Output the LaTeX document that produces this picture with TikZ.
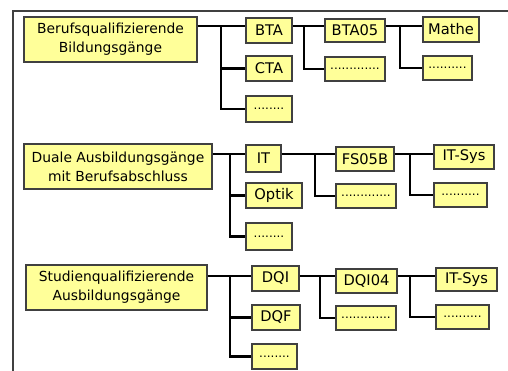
\documentclass[tikz,border=0pt]{standalone}
\usepackage{fontspec}
\setmainfont{DejaVu Sans}
\definecolor{boxfill}{HTML}{FFFF99}
\begin{document}
\begin{tikzpicture}[x=0.75pt,y=-0.75pt,
  box/.style={draw=black!75, fill=boxfill, line width=0.8pt, inner sep=0pt,
    align=center, font=\fontsize{11}{14.5}\selectfont},
  head/.style={box, font=\fontsize{10.4}{14}\selectfont},
  blank/.style={box, font=\fontsize{9}{10}\selectfont},
  % place a box by its corners (x1,y1) and (x2,y2)
  span/.style n args={4}{minimum width={(#3-#1)*0.75pt},
    minimum height={(#4-#2)*0.75pt}, at={({(#1+#3)/2},{(#2+#4)/2})}},
  link/.style={draw=black, line width=1.6pt},
  frame/.style={draw=black!75, line width=1.2pt}]
\useasboundingbox (0,0) rectangle (508,371);
% outer frame (top and left edges)
\draw[frame] (13,371) -- (13,11) -- (508,11);

% --- Berufsqualifizierende Bildungsgänge
\node[head, span={24}{17}{197}{62}] (r1) {Berufsqualifizierende\\Bildungsgänge};
\node[box, span={246}{18}{292}{43}] (bta) {BTA};
\node[box, span={246}{56}{292}{81}] (cta) {CTA};
\node[blank, span={246}{96}{292}{122}] (d1) {........};
\node[box, span={325}{19}{385}{42}] (bta05) {BTA05};
\node[blank, span={325}{57}{385}{81}] (db) {.............};
\node[box, span={423}{17}{479}{42}] (mathe) {Mathe};
\node[blank, span={423}{56}{472}{80}] (dm) {..........};

\coordinate (a1) at (221,26);
\coordinate (a2) at (304,26);
\coordinate (a3) at (400,26);
\draw[link] (r1.east |- a1) -- (a1 -| bta.west);
\draw[link] (a1) |- (cta.west);
\draw[link] (a1) |- (d1.west);
\draw[link] (bta.east |- a2) -- (a2 -| bta05.west);
\draw[link] (a2) |- (db.west);
\draw[link] (bta05.east |- a3) -- (a3 -| mathe.west);
\draw[link] (a3) |- (dm.west);

% --- Duale Ausbildungsgänge mit Berufsabschluss
\node[head, span={24}{144}{212}{189}] (r2) {Duale Ausbildungsgänge\\mit Berufsabschluss};
\node[box, span={246}{145}{281}{172}] (it) {IT};
\node[box, span={246}{183}{302}{208}] (optik) {Optik};
\node[blank, span={246}{223}{292}{250}] (d2) {........};
\node[box, span={336}{147}{394}{171}] (fs) {FS05B};
\node[blank, span={336}{184}{396}{208}] (df) {.............};
\node[box, span={434}{145}{494}{169}] (its1) {IT-Sys};
\node[blank, span={434}{183}{487}{207}] (di) {..........};

\coordinate (b1) at (230,154);
\coordinate (b2) at (315,154);
\coordinate (b3) at (410,154);
\draw[link] (r2.east |- b1) -- (b1 -| it.west);
\draw[link] (b1) |- (optik.west);
\draw[link] (b1) |- (d2.west);
\draw[link] (it.east |- b2) -- (b2 -| fs.west);
\draw[link] (b2) |- (df.west);
\draw[link] (fs.east |- b3) -- (b3 -| its1.west);
\draw[link] (b3) |- (di.west);

% --- Studienqualifizierende Ausbildungsgänge
\node[head, span={26}{265}{207}{310}] (r3) {Studienqualifizierende\\Ausbildungsgänge};
\node[box, span={252}{266}{299}{291}] (dqi) {DQI};
\node[box, span={252}{305}{300}{330}] (dqf) {DQF};
\node[blank, span={252}{344}{297}{369}] (d3) {........};
\node[box, span={336}{269}{397}{293}] (dqi04) {DQI04};
\node[blank, span={336}{306}{396}{330}] (dq) {.............};
\node[box, span={436}{268}{497}{291}] (its2) {IT-Sys};
\node[blank, span={436}{305}{489}{329}] (dj) {..........};

\coordinate (c1) at (230,276);
\coordinate (c2) at (320,276);
\coordinate (c3) at (410,276);
\draw[link] (r3.east |- c1) -- (c1 -| dqi.west);
\draw[link] (c1) |- (dqf.west);
\draw[link] (c1) |- (d3.west);
\draw[link] (dqi.east |- c2) -- (c2 -| dqi04.west);
\draw[link] (c2) |- (dq.west);
\draw[link] (dqi04.east |- c3) -- (c3 -| its2.west);
\draw[link] (c3) |- (dj.west);
\end{tikzpicture}
\end{document}
